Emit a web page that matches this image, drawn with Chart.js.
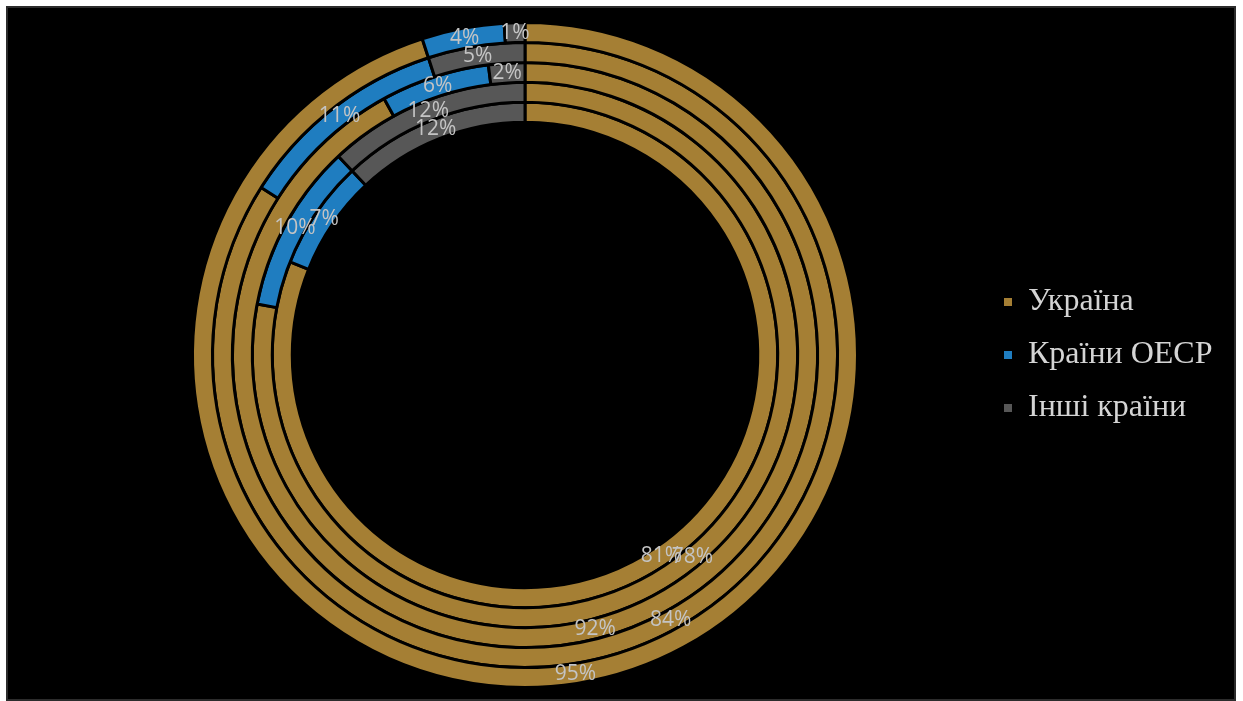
<!DOCTYPE html>
<html lang="uk">
<head>
<meta charset="utf-8">
<title>Україна / Країни ОЕСР / Інші країни</title>
<script src="https://cdn.jsdelivr.net/npm/chart.js@4/dist/chart.umd.min.js"></script>
<style>
  html, body { margin: 0; padding: 0; background: #ffffff; }
  body { width: 1243px; height: 701px; position: relative; overflow: hidden; }
  #frame {
    position: absolute; left: 6px; top: 6px;
    width: 1226px; height: 691px;
    background: #000000;
    border: 2px solid #2c2c2c;
  }
  #chart { display: block; }
</style>
</head>
<body>
<div id="frame"><canvas id="chart" width="1226" height="691"></canvas></div>
<script>
// Categories shown in the legend
const categories = ['Україна', 'Країни ОЕСР', 'Інші країни'];

// Shares (%) per ring, outermost ring first
const ring1 = [95, 4, 1];
const ring2 = [84, 11, 5];
const ring3 = [92, 6, 2];
const ring4 = [78, 10, 12];
const ring5 = [81, 7, 12];
const rings = [ring1, ring2, ring3, ring4, ring5];

const colors = ['#a57f34', '#1f7dc0', '#575757'];

// Legend geometry
const legendFontSize = 32;
const legendPadding = 21;
const legendBox = 8;
const legendFont = '"Liberation Serif", "Times New Roman", serif';

// Measure the widest legend entry so the legend sits where we want it
const mctx = document.createElement('canvas').getContext('2d');
mctx.font = legendFontSize + 'px ' + legendFont;
const maxTextW = Math.max(...categories.map(t => mctx.measureText(t).width));
const legendWidth = legendPadding + legendBox + legendFontSize / 2 + maxTextW + 10;
const legendLeft = 975;
const padRight = Math.max(0, 1226 - legendLeft - legendWidth);
const padLeft = 1034 - legendLeft;

// Percent labels at the middle of each arc
const arcLabels = {
  id: 'arcLabels',
  afterDatasetsDraw(chart) {
    const ctx = chart.ctx;
    ctx.save();
    ctx.font = '21px "Open Sans", "DejaVu Sans", sans-serif';
    ctx.fillStyle = '#c4c4c4';
    ctx.textAlign = 'center';
    ctx.textBaseline = 'middle';
    chart.data.datasets.forEach((ds, di) => {
      const meta = chart.getDatasetMeta(di);
      meta.data.forEach((arc, i) => {
        const p = arc.getProps(['x', 'y', 'startAngle', 'endAngle', 'innerRadius', 'outerRadius'], true);
        const a = (p.startAngle + p.endAngle) / 2;
        const r = (p.innerRadius + p.outerRadius) / 2;
        ctx.fillText(ds.data[i] + '%', p.x + Math.cos(a) * r, p.y + Math.sin(a) * r);
      });
    });
    ctx.restore();
  }
};

new Chart(document.getElementById('chart'), {
  type: 'doughnut',
  data: {
    labels: categories,
    datasets: rings.map((values, k) => ({
      label: 'Кільце ' + (k + 1),
      data: values,
      backgroundColor: colors,
      borderColor: '#000000',
      borderWidth: 3,
      hoverOffset: 0,
      hoverBorderWidth: 3
    }))
  },
  options: {
    responsive: false,
    animation: false,
    events: [],
    cutout: '70%',
    layout: { padding: { left: padLeft, right: padRight, top: 13, bottom: 10 } },
    plugins: {
      tooltip: { enabled: false },
      legend: {
        position: 'right',
        align: 'center',
        labels: {
          boxWidth: legendBox,
          boxHeight: legendBox,
          padding: legendPadding,
          color: '#d4d4d4',
          font: { family: legendFont, size: legendFontSize },
          generateLabels(chart) {
            return categories.map((name, i) => ({
              text: name,
              fillStyle: colors[i],
              strokeStyle: colors[i],
              lineWidth: 0,
              fontColor: '#d4d4d4',
              hidden: false,
              index: i
            }));
          }
        }
      }
    }
  },
  plugins: [arcLabels]
});
</script>
</body>
</html>
